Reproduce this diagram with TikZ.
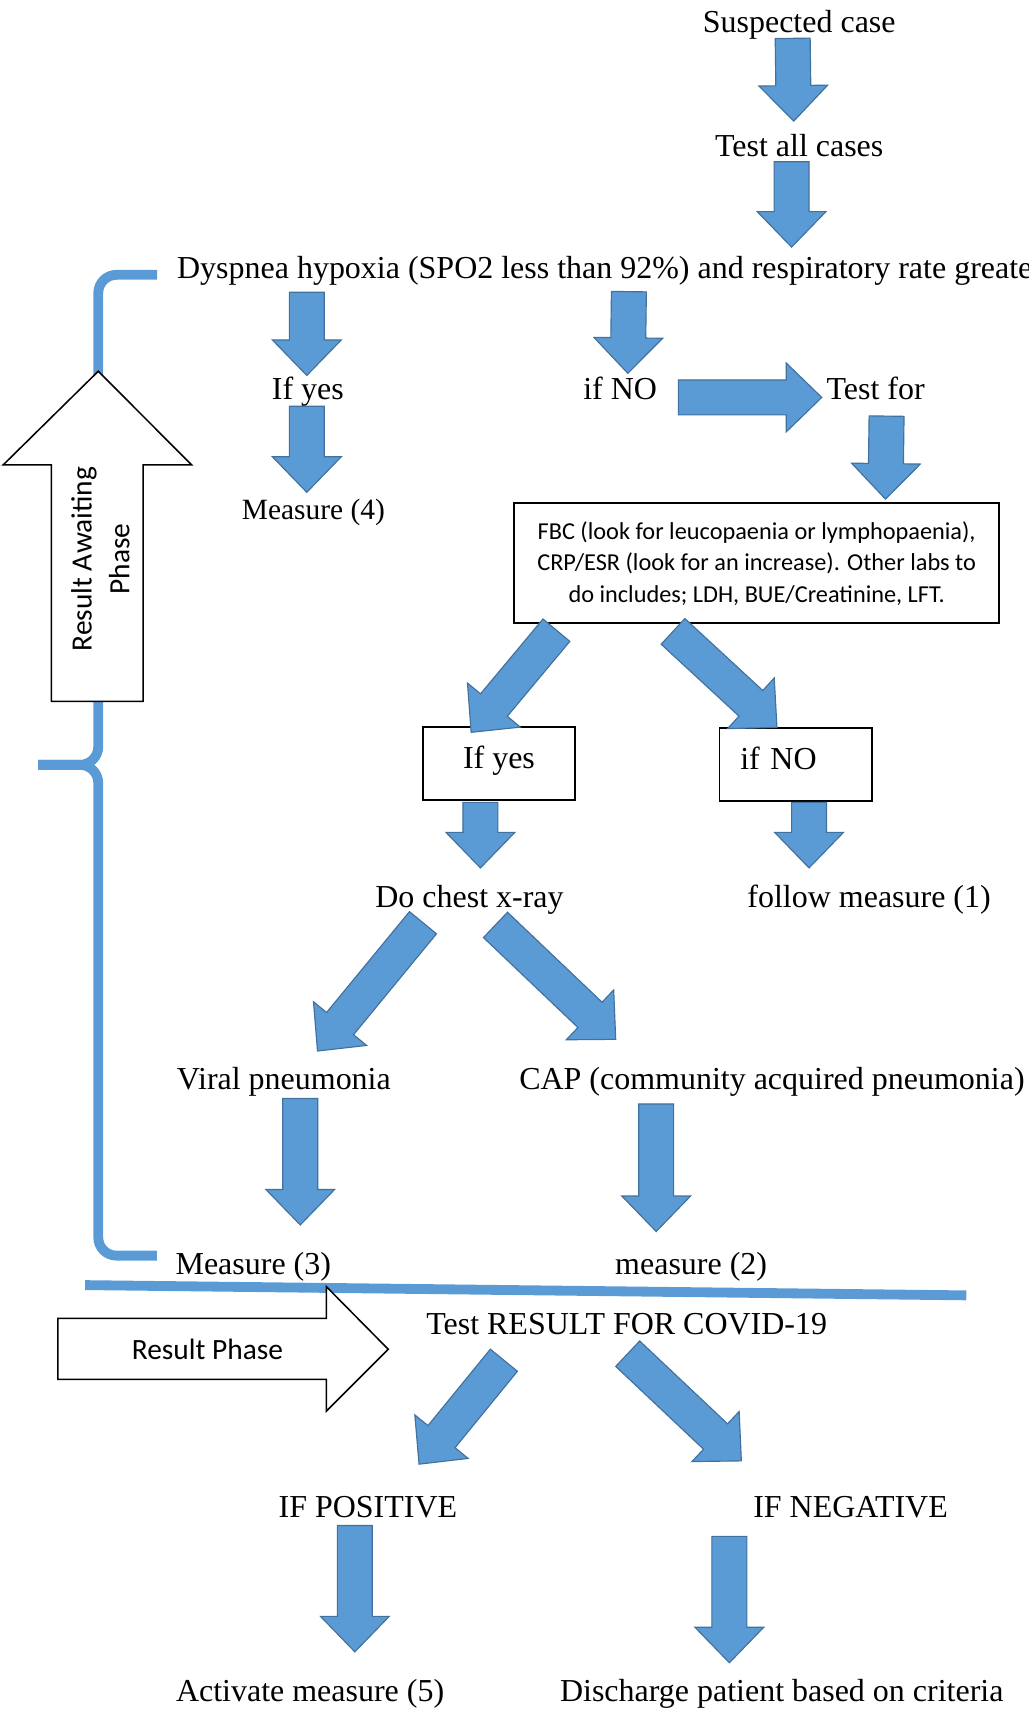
\documentclass[tikz,border=0pt]{standalone}
\usepackage{fontspec}
\setmainfont{Liberation Serif}
\newfontfamily\calibri{Carlito}
\usetikzlibrary{calc}
\definecolor{officeBlue}{HTML}{5B9BD5}
\definecolor{officeBlueDark}{HTML}{41719C}
\newcommand{\arShaft}{0.48cm}
\newcommand{\arWing}{0.945cm}
\newcommand{\arHead}{0.975cm}
% block arrow: from #1 to tip #2
\newcommand{\myArrow}[2]{%
	\path (#1) coordinate (arS) (#2) coordinate (arE);
	\path ($(arE)!\arHead!(arS)$) coordinate (arH);
	\filldraw[myBlock]
		($(arS)!\arShaft!90:(arE)$) -- ($(arH)!\arShaft!90:(arE)$)
		-- ($(arH)!\arWing!90:(arE)$) -- (arE)
		-- ($(arH)!\arWing!-90:(arE)$) -- ($(arH)!\arShaft!-90:(arE)$)
		-- ($(arS)!\arShaft!-90:(arE)$) -- cycle;
}
\tikzset{
myText/.style={
	font=\fontsize{25}{30}\selectfont,
	inner sep=0pt, text height=20.05pt, text depth=2.95pt
}
, myLabBox/.style={
	draw, line width=1.5pt,
	minimum width=13.32cm, minimum height=3.3cm,
	align=center, font=\calibri\fontsize{19}{24.6}\selectfont
}
, myAnsBox/.style={
	draw, line width=1.5pt,
	minimum width=4.2cm, minimum height=2.01cm,
	text height=17.5pt, text depth=10.5pt,
	font=\fontsize{25}{30}\selectfont
}
% phase arrows
, myPhase/.style={draw=black,fill=white,line width=1.2pt,line join=miter}
, myPhaseText/.style={font=\calibri\fontsize{23}{29.5}\selectfont,align=center,inner sep=0pt}
% links
, myBlock/.style={fill=officeBlue,draw=officeBlueDark,line width=0.9pt,line join=miter}
, myBrace/.style={draw=officeBlue,line width=0.27cm,rounded corners=0.5cm}
}

\begin{document}
\begin{tikzpicture}[x=0.03cm,y=-0.03cm]
	\useasboundingbox (0,0) rectangle (942,1568);
	% nodes
	\node[myText] (susp) at (732,20) {Suspected case};
	\node[myText] (testAll) at (732,133) {Test all cases};
	\node[myText,anchor=west] (dysp) at (162,245) {Dyspnea hypoxia (SPO2 less than 92\%) and respiratory rate greate};
	\node[myText] (ifYesA) at (282,356) {If yes};
	\node[myText,font=\fontsize{23}{28}\selectfont] (measFour) at (287,466) {Measure (4)};
	\node[myText] (ifNoA) at (568,356) {if NO};
	\node[myText] (testFor) at (802,356) {Test for};
	\node[myLabBox] (labs) at (693,516) {FBC (look for leucopaenia or lymphopaenia),\\CRP/ESR (look for an increase). Other labs to\\do includes; LDH, BUE/Creatinine, LFT.};
	\node[myAnsBox] (yesBox) at (457,699.5) {If yes};
	\node[myAnsBox,text width=3.06cm,inner xsep=0.57cm,align=left] (noBox) at (729,700.5) {if NO};
	\node[myText] (chest) at (430,821) {Do chest x-ray};
	\node[myText] (follow) at (796,821) {follow measure (1)};
	\node[myText] (viral) at (260,988) {Viral pneumonia};
	\node[myText] (cap) at (707,988) {CAP (community acquired pneumonia)};
	\node[myText] (measThree) at (232,1157) {Measure (3)};
	\node[myText] (measTwo) at (633,1157) {measure (2)};
	\node[myText] (covid) at (574,1212) {Test RESULT FOR COVID-19};
	\node[myText] (pos) at (337,1380) {IF POSITIVE};
	\node[myText] (neg) at (779,1380) {IF NEGATIVE};
	\node[myText] (act) at (284,1548) {Activate measure (5)};
	\node[myText] (disch) at (716,1548) {Discharge patient based on criteria};

	% brace of the awaiting phase
	\coordinate (braceTip) at (35,700.5);
	\draw[myBrace] ($(dysp.west)+(-18,6.7)$) -- (90,251.7) -- (90,700.5) -- (braceTip);
	\draw[myBrace] (braceTip) -- (90,700.5) -- (90,1150) -- ($(measThree.west)+(-17,-7)$);
	\filldraw[myPhase] (90,340) -- (175.4,425.7) -- (131,425.7) -- (131,642.3)
		-- (47,642.3) -- (47,425.7) -- (3,425.7) -- cycle;
	\node[myPhaseText,rotate=90] (awaiting) at (92,512) {Result Awaiting\\Phase};

	% result phase
	\draw[myBrace] (78,1177) -- (885,1186.4);
	\filldraw[myPhase] (53,1207.5) -- (299,1207.5) -- (299,1178.5) -- (355.6,1235.8)
		-- (299,1292.3) -- (299,1263.3) -- (53,1263.3) -- cycle;
	\node[myPhaseText] (resPhase) at (190,1236) {Result Phase};

	% links
	\myArrow{$(susp.south)+(-6,1.4)$}{$(testAll.north)+(-5,-8.4)$}
	\myArrow{$(testAll.south)+(-7,1.4)$}{$(testAll.south |- dysp.north)+(-7,-5)$}
	\myArrow{$(ifYesA.north |- dysp.south)+(-1,9)$}{$(ifYesA.north)+(-1,1.6)$}
	\myArrow{$(ifYesA.south)+(-1,2.4)$}{$(measFour.north)+(-6,-1.4)$}
	\myArrow{$(ifNoA.north |- dysp.south)+(8,8.4)$}{$(ifNoA.north)+(7,-0.4)$}
	\myArrow{$(ifNoA.east)+(19.3,8)$}{$(testFor.west)+(-4.2,8)$}
	\myArrow{$(testFor.south)+(10,11.4)$}{$(testFor.south |- labs.north)+(9,-3)$}
	\myArrow{$(labs.south west)+(39.5,5.3)$}{$(yesBox.north west)+(45.4,5.6)$}
	\myArrow{$(labs.south)+(-76.6,6.4)$}{$(noBox.north)+(-17.4,0.1)$}
	\myArrow{$(yesBox.south)+(-17,1)$}{$(yesBox.south |- chest.north)+(-17,-12.4)$}
	\myArrow{$(noBox.south)+(12,0)$}{$(noBox.south |- follow.north)+(12,-12.4)$}
	\myArrow{$(chest.south)+(-42.6,10.4)$}{$(viral.north)+(30.8,-11.7)$}
	\myArrow{$(chest.south)+(23.8,12.4)$}{$(cap.north)+(-143.1,-22.4)$}
	\myArrow{$(viral.south)+(15,4.4)$}{$(measThree.north)+(43,-21.4)$}
	\myArrow{$(measTwo.north |- cap.south)+(-32,9.4)$}{$(measTwo.north)+(-32,-15.4)$}
	\myArrow{$(covid.south)+(-112.5,20.1)$}{$(pos.north)+(46.8,-25.3)$}
	\myArrow{$(covid.south)+(0.9,14.1)$}{$(neg.north)+(-100,-28.3)$}
	\myArrow{$(pos.south)+(-12,3.4)$}{$(act.north)+(41,-21.4)$}
	\myArrow{$(neg.south)+(-111,13.4)$}{$(disch.north)+(-48,-11.4)$}
\end{tikzpicture}
\end{document}
